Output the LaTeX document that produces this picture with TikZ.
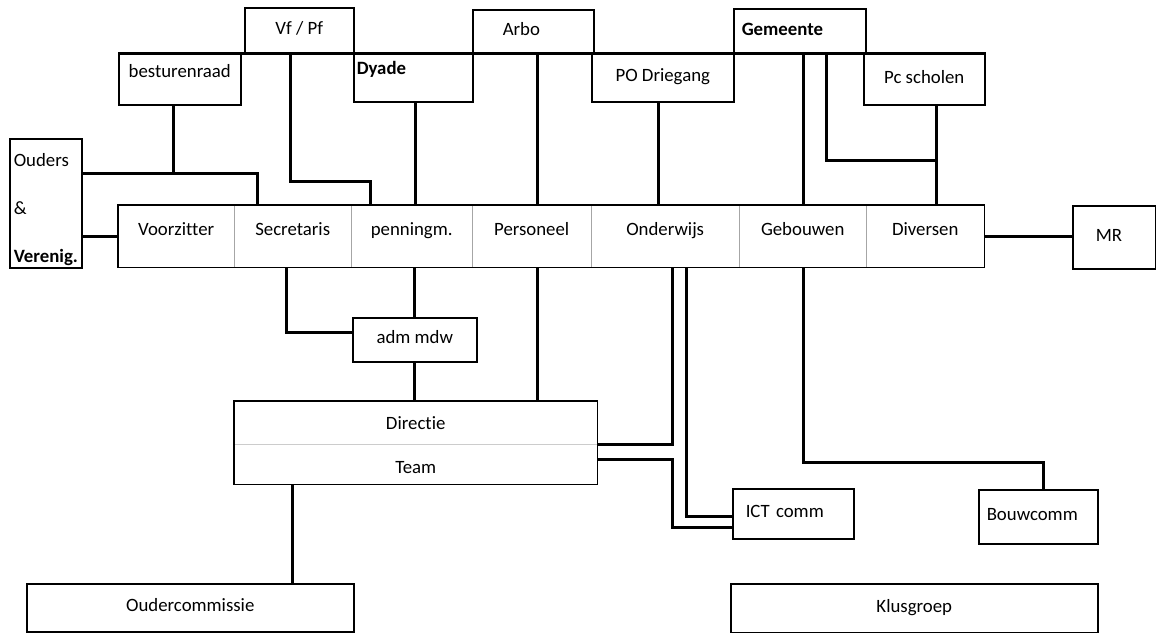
\documentclass[tikz,border=0pt]{standalone}
\usepackage{fontspec}
\setmainfont{Carlito}[Ligatures = NoCommon]

\begin{document}
\begin{tikzpicture}[x = 1pt, y = -1pt, font = \fontsize{18.8}{22}\selectfont,
	box/.style = {draw, line width = 1.5pt, inner sep = 0pt, anchor = north west, text height = 12pt, text depth = 4pt},
	cell/.style = {inner sep = 0pt, anchor = north west, minimum height = 62pt, text height = 12pt, text depth = 14pt},
	link/.style = {line width = 3pt},
	divider/.style = {line width = 0.6pt, gray!70}]

	\useasboundingbox (0, 0) rectangle (1156, 632);

	% Draw top row

	\node [box, minimum width = 109pt, minimum height = 45pt] (vfpf) at (244, 7) {Vf / Pf};
	\node [box, align = left, inner xsep = 30pt, text width = 61pt, minimum height = 44pt] (arbo) at (472, 9) {Arbo};
	\node [box, align = left, inner xsep = 8pt, text width = 116pt, minimum height = 45pt] (gemeente) at (733, 8) {\bfseries Gemeente};

	\node [box, minimum width = 122pt, minimum height = 51pt, text depth = 15pt] (bestuur) at (118, 53) {besturenraad};
	\node [box, align = left, inner xsep = 3pt, text width = 113pt, minimum height = 48pt, text depth = 18pt] (dyade) at (353, 53) {\bfseries Dyade};
	\node [box, minimum width = 142pt, minimum height = 48pt] (podr) at (591, 53) {PO Driegang};
	\node [box, minimum width = 121pt, minimum height = 51pt] (pcsch) at (863, 53) {Pc scholen};

	% Draw side boxes

	\node [box, align = left, inner xsep = 4pt, text width = 64pt, minimum height = 129pt, text height = 28pt, text depth = 101pt] (ouders) at (9, 138)
		{Ouders\\[26pt]\&\\[26pt]{\bfseries Verenig.}};
	\node [box, align = left, inner xsep = 23pt, text width = 37pt, minimum height = 63pt] (mr) at (1072, 205) {MR};

	% Draw bestuur bar

	\node [cell, minimum width = 116pt] (voorz) at (118, 205) {Voorzitter};
	\node [cell, minimum width = 117pt] (secr) at (234, 205) {Secretaris};
	\node [cell, minimum width = 121pt] (penn) at (351, 205) {penningm.};
	\node [cell, minimum width = 119pt] (pers) at (472, 205) {Personeel};
	\node [cell, minimum width = 148pt] (onderw) at (591, 205) {Onderwijs};
	\node [cell, minimum width = 127pt] (gebouw) at (739, 205) {Gebouwen};
	\node [cell, minimum width = 118pt] (divers) at (866, 205) {Diversen};

	\foreach \c in {secr, penn, pers, onderw, gebouw, divers}
		\draw [divider] (\c.north west) -- (\c.south west);

	\draw [line width = 1.5pt] (voorz.north west) rectangle (divers.south east);

	% Draw school boxes

	\node [box, minimum width = 124pt, minimum height = 44pt] (adm) at (352, 317) {adm mdw};

	\node [inner sep = 0pt, anchor = north west, minimum width = 363pt, minimum height = 43pt, text height = 15pt, text depth = 2pt] (dir) at (234, 401) {Directie};
	\node [inner sep = 0pt, anchor = north west, minimum width = 363pt, minimum height = 40pt, text height = 20pt, text depth = 2pt] (team) at (234, 444) {Team};

	\draw [divider, gray!40] (dir.south west) -- (dir.south east);
	\draw [line width = 1.5pt] (dir.north west) rectangle (team.south east);

	% Draw commissions

	\node [box, align = left, inner xsep = 13pt, text width = 95pt, minimum height = 50pt] (ict) at (732, 488) {ICT comm};
	\node [box, align = left, inner xsep = 8pt, text width = 103pt, minimum height = 54pt] (bouw) at (978, 489) {Bouwcomm};
	\node [box, minimum width = 327pt, minimum height = 48pt] (oudc) at (26, 583) {Oudercommissie};
	\node [box, minimum width = 367pt, minimum height = 49pt] (klus) at (730, 583) {Klusgroep};

	% Draw connectors above the bar

	\draw [link] (bestuur.north west) -- (pcsch.north east);

	\draw [link] ([xshift = 55pt] bestuur.south west) -- ++(0, 69);
	\draw [link] ([yshift = -35pt] ouders.north east) -| ([xshift = 23pt] secr.north west);
	\draw [link] ([xshift = 46pt] vfpf.south west) -- ++(0, 128) -| ([xshift = 19pt] penn.north west);
	\draw [link] ([xshift = 62pt] dyade.south west) -- ([xshift = 64pt] penn.north west);
	\draw [link] ([xshift = 65pt] arbo.south west) -- ([xshift = 65pt] pers.north west);
	\draw [link] ([xshift = 67pt] podr.south west) -- ([xshift = 67pt] onderw.north west);
	\draw [link] ([xshift = 70pt] gemeente.south west) -- ([xshift = 64pt] gebouw.north west);
	\draw [link] ([xshift = 93pt] gemeente.south west) -- ++(0, 106) -| ([xshift = 73pt] pcsch.south west);
	\draw [link] ([xshift = 73pt] pcsch.south west) -- ([xshift = 70pt] divers.north west);

	\draw [link] (ouders.east |- voorz.west) -- (voorz.west);
	\draw [link] (divers.east) -- (divers.east -| mr.west);

	% Draw connectors below the bar

	\draw [link] ([xshift = 52pt] secr.south west) |- ([yshift = -15pt] adm.north west);
	\draw [link] ([xshift = 63pt] penn.south west) -- ([xshift = 62pt] adm.north west);
	\draw [link] ([xshift = 62pt] adm.south west) -- ([xshift = 180pt] dir.north west);
	\draw [link] ([xshift = 65pt] pers.south west) -- ([xshift = 303pt] dir.north west);

	\draw [link] ([xshift = 81pt] onderw.south west) |- (dir.south east);
	\draw [link] ([xshift = 95pt] onderw.south west) |- ([yshift = -28pt] ict.north west);
	\draw [link] ([yshift = -15pt] team.north east) -- ++(75, 0) |- ([yshift = -39pt] ict.north west);

	\draw [link] ([xshift = 64pt] gebouw.south west) -- ++(0, 195) -| ([xshift = 65pt] bouw.north west);
	\draw [link] ([xshift = 58pt] team.south west) -- ([xshift = 266pt] oudc.north west);

\end{tikzpicture}
\end{document}
